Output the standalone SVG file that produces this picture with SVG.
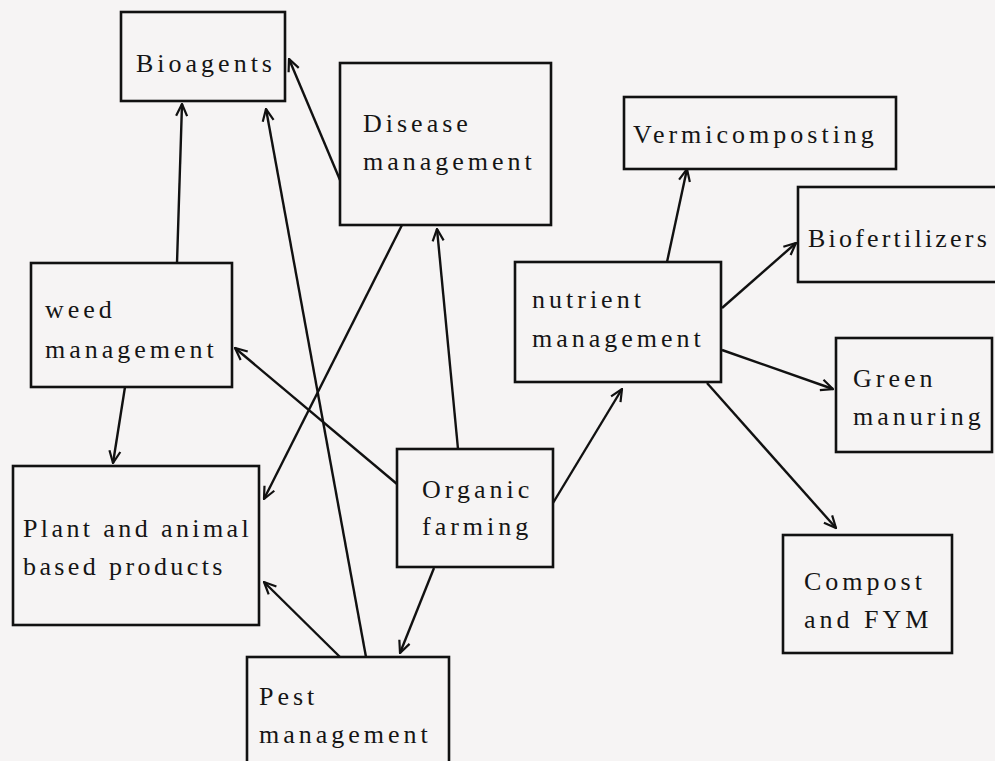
<svg xmlns="http://www.w3.org/2000/svg" width="995" height="761" viewBox="0 0 995 761">
<defs>
<style>
.box{fill:none;stroke:#111;stroke-width:2.6}
.c{fill:none;stroke:#111;stroke-width:2.4;marker-end:url(#ah)}
</style>
<marker id="ah" viewBox="0 0 14 14" refX="13" refY="7" markerWidth="14" markerHeight="14" markerUnits="userSpaceOnUse" orient="auto">
<path d="M1,1.5 L13,7 L1,12.5" fill="none" stroke="#111" stroke-width="2.2"/>
</marker>
</defs>
<rect width="995" height="761" fill="#f6f4f4"/>
<g id="connectors">
<line class="c" x1="177" y1="263" x2="182" y2="104"/>
<line class="c" x1="366" y1="657" x2="266" y2="109"/>
<line class="c" x1="340" y1="180" x2="289" y2="59"/>
<line class="c" x1="458" y1="449" x2="437" y2="229"/>
<line class="c" x1="402" y1="225" x2="264" y2="499"/>
<line class="c" x1="397" y1="484" x2="235" y2="348"/>
<line class="c" x1="125" y1="387" x2="113" y2="463"/>
<line class="c" x1="340" y1="657" x2="264" y2="582"/>
<line class="c" x1="434" y1="568" x2="400" y2="653"/>
<line class="c" x1="553" y1="503" x2="622" y2="389"/>
<line class="c" x1="667" y1="262" x2="687" y2="169"/>
<line class="c" x1="722" y1="308" x2="796" y2="243"/>
<line class="c" x1="722" y1="350" x2="833" y2="389"/>
<line class="c" x1="707" y1="383" x2="836" y2="528"/>
</g>
<g font-family="Liberation Serif, serif" font-size="26" letter-spacing="4" fill="#151515">
<g id="bioagents">
<rect class="box" x="121" y="12" width="164" height="89"/>
<text x="136" y="72">Bioagents</text>
</g>
<g id="disease">
<rect class="box" x="340" y="63" width="211" height="162"/>
<text x="363" y="132">Disease</text>
<text x="363" y="170">management</text>
</g>
<g id="vermicomposting">
<rect class="box" x="624" y="97" width="272" height="72"/>
<text x="633" y="143">Vermicomposting</text>
</g>
<g id="biofertilizers">
<rect class="box" x="798" y="187" width="202" height="95"/>
<text x="808" y="247" letter-spacing="3.2">Biofertilizers</text>
</g>
<g id="weed">
<rect class="box" x="31" y="263" width="201" height="124"/>
<text x="45" y="318">weed</text>
<text x="45" y="358">management</text>
</g>
<g id="nutrient">
<rect class="box" x="515" y="262" width="206" height="120"/>
<text x="532" y="308">nutrient</text>
<text x="532" y="347">management</text>
</g>
<g id="green">
<rect class="box" x="836" y="338" width="156" height="114"/>
<text x="853" y="387">Green</text>
<text x="853" y="425">manuring</text>
</g>
<g id="plant">
<rect class="box" x="13" y="466" width="246" height="159"/>
<text x="23" y="537" letter-spacing="3.4">Plant and animal</text>
<text x="23" y="575" letter-spacing="3.4">based products</text>
</g>
<g id="organic">
<rect class="box" x="397" y="449" width="156" height="118"/>
<text x="422" y="498">Organic</text>
<text x="422" y="535">farming</text>
</g>
<g id="compost">
<rect class="box" x="783" y="535" width="169" height="118"/>
<text x="804" y="590">Compost</text>
<text x="804" y="628">and FYM</text>
</g>
<g id="pest">
<rect class="box" x="247" y="657" width="202" height="120"/>
<text x="259" y="705">Pest</text>
<text x="259" y="743">management</text>
</g>
</g>
</svg>
